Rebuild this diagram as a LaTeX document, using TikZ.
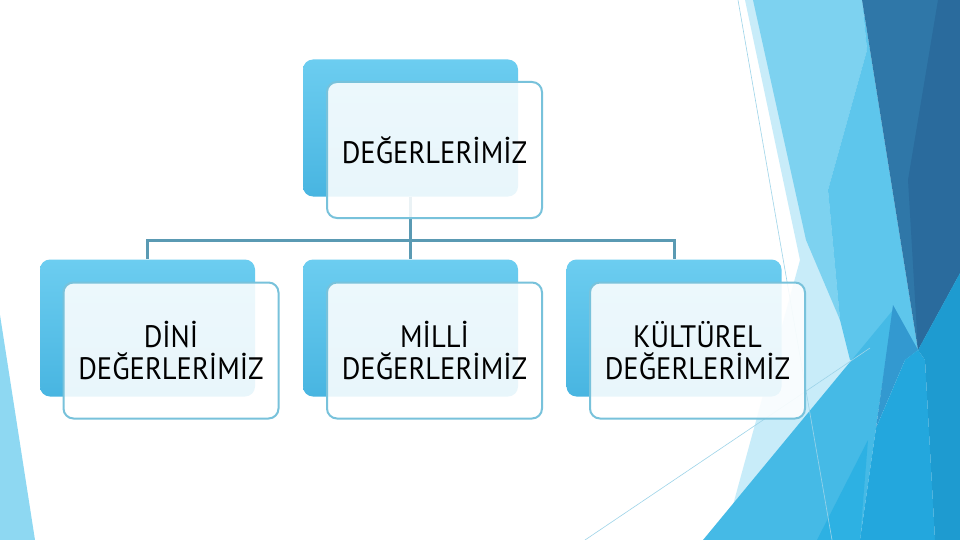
\documentclass[tikz,border=0pt]{standalone}
\usepackage{fontspec}
\setmainfont{PT Sans}[FakeStretch=0.92]
\definecolor{pale}{HTML}{C8ECF9}
\definecolor{lightb}{HTML}{7DD2F0}
\definecolor{midb}{HTML}{5EC6EC}
\definecolor{darka}{HTML}{2F77A8}
\definecolor{darkb}{HTML}{2A6B9D}
\definecolor{deepb}{HTML}{3399D0}
\definecolor{skyb}{HTML}{23A7DD}
\definecolor{seab}{HTML}{1E9BD0}
\definecolor{lowb}{HTML}{45BAE6}
\definecolor{lowc}{HTML}{2DB1E3}
\definecolor{stripb}{HTML}{8ED8F2}
\definecolor{thinl}{HTML}{9ED4E9}
\definecolor{backtop}{HTML}{6CCDF0}
\definecolor{backbot}{HTML}{48B5E1}
\definecolor{frontline}{HTML}{78C2DB}
\definecolor{linkc}{HTML}{5A9AB3}
\usetikzlibrary{positioning}

\begin{document}
\begin{tikzpicture}[x=1pt, y=-1pt]
				\tikzstyle{back}=[rounded corners=10pt, top color=backtop, bottom color=backbot, minimum width=215pt, minimum height=137pt, inner sep=0pt]
				\tikzstyle{front}=[rounded corners=10pt, draw=frontline, line width=2pt, fill=white, fill opacity=0.88, text opacity=1, minimum width=215pt, minimum height=136pt, inner sep=0pt, align=center, font=\fontsize{31}{32}\selectfont]
				\tikzstyle{link}=[draw=linkc, line width=3pt]
				\useasboundingbox (0,0) rectangle (960,540);
				\fill[white] (0,0) rectangle (960,540);
				% facets
				\fill[pale] (745,0) -- (862,0) -- (918,350) -- (733,505) -- (800,260) -- cycle;
				\fill[lightb] (753,0) -- (862,0) -- (867,50) -- (828,190) -- (840,320) -- (806,240) -- cycle;
				\fill[midb] (862,0) -- (918,350) -- (905,360) -- (850,360) -- (840,320) -- (828,190) -- (867,50) -- cycle;
				\fill[darka] (862,0) -- (960,0) -- (960,273) -- (918,350) -- cycle;
				\fill[darkb] (938,0) -- (960,0) -- (960,273) -- (918,350) -- (908,180) -- cycle;
				\fill[lowb] (703,540) -- (893,310) -- (876,428) -- (860,540) -- cycle;
				\fill[lowc] (817,540) -- (868,440) -- (860,540) -- cycle;
				\fill[deepb] (893,305) -- (918,350) -- (905,360) -- (876,428) -- cycle;
				\fill[skyb] (918,350) -- (925,360) -- (935,540) -- (860,540) -- (876,428) -- (905,360) -- cycle;
				\fill[seab] (918,350) -- (960,273) -- (960,540) -- (935,540) -- (925,360) -- cycle;
				\fill[stripb] (0,315) -- (35,540) -- (0,540) -- cycle;
				\draw[thinl, line width=0.6pt] (738,0) -- (832,540);
				\draw[thinl, line width=0.6pt] (585,540) -- (870,348);
				% chart
				\node[back] (Tb) at (410.5,128) {};
				\node[back] (Ab) at (147.5,328) {};
				\node[back] (Bb) at (410.5,328) {};
				\node[back] (Cb) at (674,328) {};
				\coordinate (J) at (410.5,240);
				\draw[link] (Tb.south) -- (J);
				\draw[link] (J) -| (Ab.north);
				\draw[link] (J) -- (Bb.north);
				\draw[link] (J) -| (Cb.north);
				\node[front] (T) at (434.5,150) {DEĞERLERİMİZ};
				\node[front] (A) at (171,350.5) {DİNİ\\DEĞERLERİMİZ};
				\node[front] (B) at (434.5,350.5) {MİLLİ\\DEĞERLERİMİZ};
				\node[front] (C) at (697.5,350.5) {KÜLTÜREL\\DEĞERLERİMİZ};
		\end{tikzpicture}
\end{document}
